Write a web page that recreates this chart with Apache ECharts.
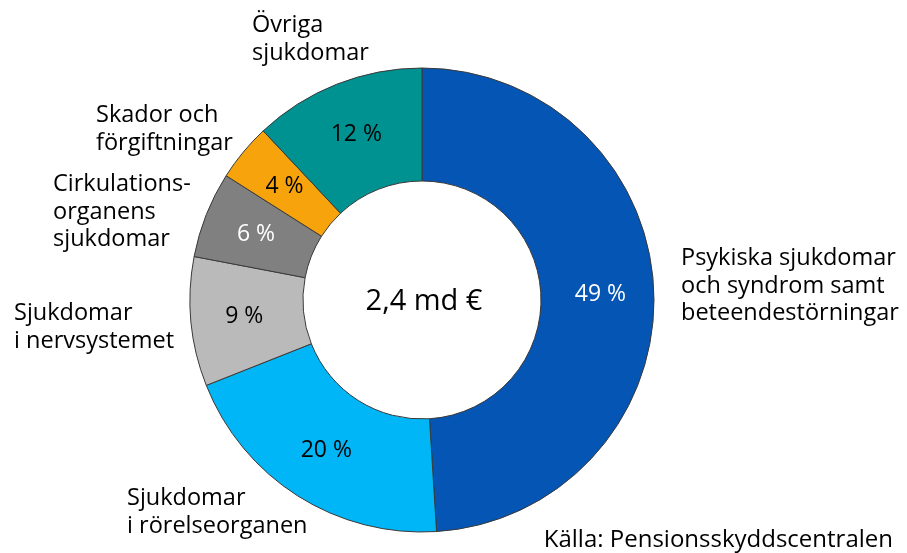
<!DOCTYPE html>
<html>
<head>
<meta charset="utf-8">
<script src="https://cdn.jsdelivr.net/npm/echarts@6/dist/echarts.min.js"></script>
<style>html,body{margin:0;padding:0;background:#fff;}#c{width:907px;height:553px;}</style>
</head>
<body>
<div id="c"></div>
<script>
const categories = [
  "Psykiska sjukdomar\noch syndrom samt\nbeteendestörningar",
  "Sjukdomar\ni rörelseorganen",
  "Sjukdomar\ni nervsystemet",
  "Cirkulations-\norganens\nsjukdomar",
  "Skador och\nförgiftningar",
  "Övriga\nsjukdomar"
];
const values = [49, 20, 9, 6, 4, 12];
const colors = ["#0455B4", "#00B6F7", "#BABABA", "#808080", "#F7A30B", "#009191"];
const percentLabelColors = ["#ffffff", "#000000", "#000000", "#ffffff", "#000000", "#000000"];
const centerText = "2,4 md €";
const sourceText = "Källa: Pensionsskyddscentralen";

// layout of the outside category labels (top-left corner of each text block)
const labelPos = [[681, 245], [127, 485], [14, 300], [53, 171], [96, 102], [252, 12]];

const FONT = "Open Sans";
const chart = echarts.init(document.getElementById('c'), null, {renderer: 'canvas'});
const center = [422, 300];

chart.setOption({
  animation: false,
  backgroundColor: '#ffffff',
  series: [
    {
      type: 'pie',
      center: center,
      radius: [119, 232],
      startAngle: 90,
      clockwise: true,
      silent: true,
      itemStyle: {borderColor: '#3a3a3a', borderWidth: 1},
      label: {
        show: true,
        position: 'inside',
        fontFamily: FONT,
        fontSize: 23,
        formatter: p => p.value + ' %'
      },
      labelLine: {show: false},
      data: values.map((v, i) => ({
        value: v,
        name: categories[i],
        itemStyle: {color: colors[i]},
        label: {color: percentLabelColors[i]}
      }))
    },
    {
      type: 'pie',
      center: center,
      radius: [119, 232],
      startAngle: 90,
      clockwise: true,
      silent: true,
      itemStyle: {color: 'rgba(0,0,0,0)', borderWidth: 0},
      label: {
        show: true,
        position: 'outside',
        fontFamily: FONT,
        fontSize: 23.5,
        lineHeight: 27.5,
        color: '#000',
        align: 'left',
        overflow: 'none',
        width: 400,
        formatter: p => p.name
      },
      labelLine: {show: false},
      labelLayout: p => ({
        x: labelPos[p.dataIndex][0],
        y: labelPos[p.dataIndex][1],
        align: 'left',
        verticalAlign: 'top',
        hideOverlap: false
      }),
      data: values.map((v, i) => ({value: v, name: categories[i]}))
    }
  ],
  graphic: [
    {
      type: 'text',
      x: center[0] + 2, y: center[1] + 2,
      style: {text: centerText, font: '29px "' + FONT + '"', fill: '#000', align: 'center', verticalAlign: 'middle'}
    },
    {
      type: 'text',
      x: 893, y: 540,
      style: {text: sourceText, font: '24px "' + FONT + '"', fill: '#000', align: 'right', verticalAlign: 'middle'}
    }
  ]
});
</script>
</body>
</html>
